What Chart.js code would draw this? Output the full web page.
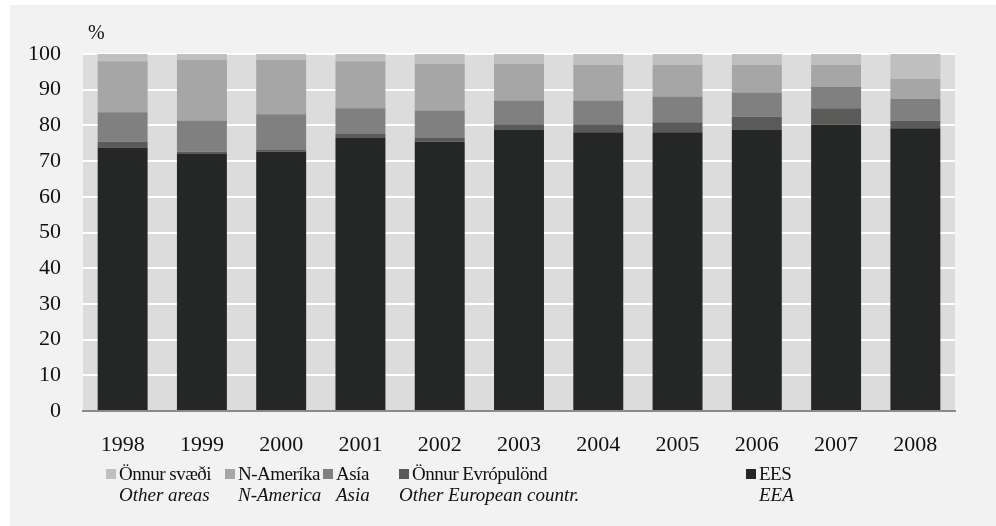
<!DOCTYPE html>
<html>
<head>
<meta charset="utf-8">
<script src="https://cdn.jsdelivr.net/npm/chart.js@4.4.1/dist/chart.umd.min.js"></script>
<style>
  html, body { margin: 0; padding: 0; background: #ffffff; }
  #wrap { position: absolute; left: 10px; top: 5px; width: 986px; height: 521px; background: #f1f2f1; }
  #box { position: absolute; left: 0; top: 0; width: 996px; height: 526px; }
  .leg { position: absolute; top: 463px; font-family: "Liberation Serif", serif; font-size: 19px; color: #111; line-height: 21px; white-space: nowrap; letter-spacing: -0.5px; }
  .leg .sw { display: inline-block; width: 10px; height: 10px; margin-right: 3px; vertical-align: 1px; }
  .leg .en { font-style: italic; display: block; letter-spacing: 0; }
</style>
</head>
<body>
<div id="wrap"></div>
<div id="box"><canvas id="myChart" width="996" height="526"></canvas></div>
<div id="legend"></div>
<script>
// data (per cent of total)
const years = ['1998', '1999', '2000', '2001', '2002', '2003', '2004', '2005', '2006', '2007', '2008'];
const eea = [73.8, 72.0, 72.6, 76.5, 75.4, 78.7, 78.1, 78.1, 78.7, 80.2, 79.2];
const otherEurope = [1.6, 0.6, 0.5, 1.1, 1.1, 1.6, 2.2, 2.8, 3.8, 4.6, 2.2];
const asia = [8.3, 8.8, 10.0, 7.2, 7.7, 6.7, 6.7, 7.2, 6.7, 6.0, 6.0];
const northAmerica = [14.3, 17.0, 15.3, 13.2, 13.1, 10.3, 9.9, 8.8, 7.7, 6.1, 5.7];
const otherAreas = [2.0, 1.6, 1.6, 2.0, 2.7, 2.7, 3.1, 3.1, 3.1, 3.1, 6.9];
const yTicks = [0, 10, 20, 30, 40, 50, 60, 70, 80, 90, 100];

const labelsIs = ['Önnur svæði', 'N-Ameríka', 'Asía', 'Önnur Evrópulönd', 'EES'];
const labelsEn = ['Other areas', 'N-America', 'Asia', 'Other European countr.', 'EEA'];
const colors = ['#bfbfbf', '#a6a6a6', '#808080', '#5a5a59', '#252626'];
const legendLeft = [106, 225, 323, 399, 746];

// plot background and the "%" unit
const plotBg = {
    id: 'plotBg',
    beforeDraw(chart) {
        const a = chart.chartArea, c = chart.ctx;
        c.save();
        c.fillStyle = '#dcdcdc';
        c.fillRect(a.left, a.top, a.right - a.left, a.bottom - a.top);
        c.restore();
    },
    afterDraw(chart) {
        const a = chart.chartArea, c = chart.ctx;
        c.save();
        c.font = '20px "Liberation Serif"';
        c.fillStyle = '#111';
        c.textBaseline = 'middle';
        c.fillText('%', a.left + 5, 34);
        c.restore();
    }
};

const series = [eea, otherEurope, asia, northAmerica, otherAreas];
const datasets = series.map((d, i) => ({
    label: labelsIs[4 - i],
    data: d,
    backgroundColor: colors[4 - i],
    borderWidth: 0,
    categoryPercentage: 1,
    barPercentage: 0.63
}));

let myChart = new Chart(document.getElementById('myChart').getContext('2d'), {
    type: 'bar',
    data: { labels: years, datasets: datasets },
    plugins: [plotBg],
    options: {
        responsive: false,
        animation: false,
        layout: { padding: { top: 54, right: 41, left: 0, bottom: 0 } },
        plugins: { legend: { display: false }, tooltip: { enabled: false } },
        scales: {
            x: {
                stacked: true,
                grid: { display: false },
                border: { color: '#8a8a8a', width: 2 },
                ticks: { color: '#111', padding: 13, font: { family: 'Liberation Serif', size: 22 } },
                afterFit: s => { s.height = 115; }
            },
            y: {
                stacked: true,
                min: 0,
                max: 100,
                afterBuildTicks: s => { s.ticks = yTicks.map(v => ({ value: v })); },
                grid: { color: '#ffffff', lineWidth: 2, drawTicks: false },
                border: { display: false },
                ticks: { color: '#111', padding: 22, font: { family: 'Liberation Serif', size: 22 } },
                afterFit: s => { s.width = 83; }
            }
        }
    }
});

// two-line legend (Icelandic / English)
const leg = document.getElementById('legend');
labelsIs.forEach((t, i) => {
    const el = document.createElement('div');
    el.className = 'leg';
    el.style.left = legendLeft[i] + 'px';
    el.innerHTML = '<span class="sw" style="background:' + colors[i] + '"></span>' + t +
        '<span class="en" style="margin-left:' + (i === 3 ? 0 : 13) + 'px">' + labelsEn[i] + '</span>';
    leg.appendChild(el);
});
</script>
</body>
</html>
